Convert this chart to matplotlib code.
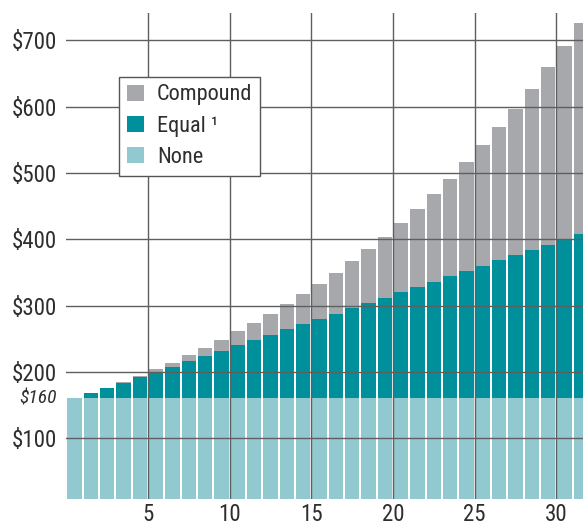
import matplotlib
matplotlib.use("Agg")
import matplotlib.pyplot as plt
import matplotlib.transforms as mtransforms
import matplotlib.font_manager as fm
from matplotlib.patches import Patch

# Values (totals per year, stacked)
years = list(range(1, 33))
none_vals = [160] * 32
equal_vals = [160, 168, 176, 184, 192, 200, 208, 216, 224, 232, 240, 248, 256, 264, 272, 280,
              288, 296, 304, 312, 320, 328, 336, 344, 352, 360, 368, 376, 384, 392, 400, 408]
compound_vals = [160, 168, 176, 185, 194, 204, 214, 225, 236, 248, 261, 274, 287, 302, 317, 333,
                 349, 367, 385, 404, 425, 446, 468, 491, 516, 542, 569, 597, 627, 659, 692, 726]

y_ticks = [100, 200, 300, 400, 500, 600, 700]
y_labels = ["$100", "$200", "$300", "$400", "$500", "$600", "$700"]
x_ticks = [5, 10, 15, 20, 25, 30]
series_names = ["Compound", "Equal \u00b9", "None"]

col_compound = "#a7a8ac"
col_equal = "#00909c"
col_none = "#92c8d0"
text_col = "#2e2e2e"
grid_col = "#5f5f5f"


def find_condensed(italic=False):
    # look for a narrow/condensed regular face among the installed fonts
    prefs = ["Liberation Sans Narrow", "Roboto Condensed", "Noto Sans", "DejaVu Sans", "Open Sans"]
    want = "italic" if italic else "normal"
    for name in prefs:
        for f in fm.fontManager.ttflist:
            low = f.fname.lower()
            narrow = ("narrow" in low or "condensed" in low or "condensed" in str(f.stretch)
                      or "narrow" in f.name.lower())
            if not narrow or "extra" in low or "semi" in low or "ultra" in low:
                continue
            if f.name.startswith(name) and f.style == want and f.weight in (400, "normal", "regular"):
                return f.fname
    return None


reg_path = find_condensed()
ita_path = find_condensed(italic=True)
plt.rcParams["font.family"] = ["Liberation Sans", "DejaVu Sans"]

if reg_path:
    tick_fp = fm.FontProperties(fname=reg_path, size=16.5)
    leg_fp = fm.FontProperties(fname=reg_path, size=16)
else:
    tick_fp = fm.FontProperties(family=["Liberation Sans", "DejaVu Sans"], size=15)
    leg_fp = fm.FontProperties(family=["Liberation Sans", "DejaVu Sans"], size=14.5)
if ita_path:
    ital_fp = fm.FontProperties(fname=ita_path, size=14)
else:
    ital_fp = fm.FontProperties(family=["Liberation Sans", "DejaVu Sans"], style="italic", size=12.5)

fig = plt.figure(figsize=(5.83, 5.25), dpi=100)
ax = fig.add_axes([66.4 / 583, 26.3 / 525, 1 - 66.4 / 583, (498.7 - 13) / 525])

# bar n covers the interval n-1 .. n
xs = [y - 0.5 for y in years]
w = 0.88
ax.bar(xs, compound_vals, width=w, color=col_compound, linewidth=0, zorder=1)
ax.bar(xs, equal_vals, width=w, color=col_equal, linewidth=0, zorder=1.1)
ax.bar(xs, none_vals, width=w, color=col_none, linewidth=0, zorder=1.2)

ax.set_xlim(0, 31.63)
ax.set_ylim(8.9, 741)

ax.set_yticks(y_ticks)
ax.set_yticklabels(y_labels, fontproperties=tick_fp)
ax.set_xticks(x_ticks)
ax.set_xticklabels([str(t) for t in x_ticks], fontproperties=tick_fp)
ax.tick_params(axis="both", length=0, colors=text_col)
ax.tick_params(axis="y", pad=7)
ax.tick_params(axis="x", pad=3)

ax.set_axisbelow(False)
ax.grid(True, color=grid_col, linewidth=1.0, zorder=2)
for s in ax.spines.values():
    s.set_visible(False)

# $160 marker label
trans = mtransforms.blended_transform_factory(ax.transAxes, ax.transData)
ax.text(-9.7 / 516.6, 160, "$160", transform=trans, ha="right", va="center",
        fontproperties=ital_fp, color=text_col)

handles = [Patch(facecolor=col_compound), Patch(facecolor=col_equal), Patch(facecolor=col_none)]
leg = ax.legend(handles, series_names, loc="upper left",
                bbox_to_anchor=(119.3 / 583, 1 - 76.7 / 525), bbox_transform=fig.transFigure,
                fancybox=False, framealpha=1, edgecolor="#555555", prop=leg_fp,
                handlelength=0.75, handleheight=0.75, handletextpad=0.6,
                labelspacing=0.46, borderpad=0.35, borderaxespad=0)
leg.get_frame().set_linewidth(1.0)
leg.set_zorder(5)
for t in leg.get_texts():
    t.set_color(text_col)

fig.savefig("out.png", dpi=100)
